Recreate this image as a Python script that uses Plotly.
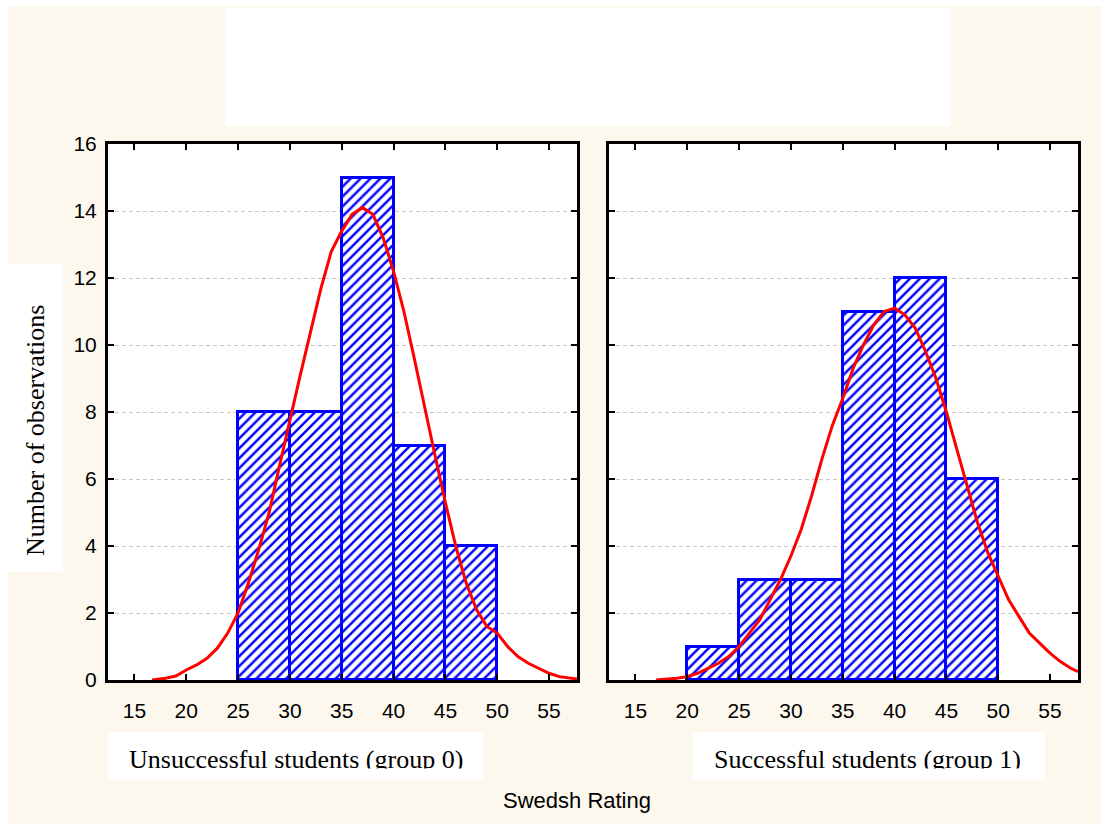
import plotly.graph_objects as go

# ---------------- data ----------------
bin_width = 5
bins_group0 = [27.5, 32.5, 37.5, 42.5, 47.5]
counts_group0 = [8, 8, 15, 7, 4]
bins_group1 = [22.5, 27.5, 32.5, 37.5, 42.5, 47.5]
counts_group1 = [1, 3, 3, 11, 12, 6]

curve0_x = [16.7, 18, 19, 20, 21, 22, 23, 24, 25, 26, 27, 28, 29, 30, 31, 32, 33, 34, 35,
            36, 37, 38, 39, 40, 41, 42, 43, 44, 45, 46, 47, 48, 49, 50, 51, 52, 53, 54,
            55, 56, 57, 57.7]
curve0_y = [0.0, 0.05, 0.12, 0.3, 0.45, 0.65, 0.95, 1.4, 2.0, 2.9, 3.9, 5.0, 6.4, 7.8,
            9.1, 10.4, 11.7, 12.8, 13.4, 13.9, 14.1, 13.9, 13.2, 12.2, 11.0, 9.6, 8.1,
            6.7, 5.3, 4.0, 2.9, 2.1, 1.6, 1.4, 1.0, 0.7, 0.5, 0.35, 0.2, 0.1, 0.05, 0.03]

curve1_x = [17, 18, 19, 20, 21, 22, 23, 24, 25, 26, 27, 28, 29, 30, 31, 32, 33, 34, 35,
            36, 37, 38, 39, 40, 41, 42, 43, 44, 45, 46, 47, 48, 49, 50, 51, 52, 53, 54,
            55, 56, 57, 57.7]
curve1_y = [0.0, 0.02, 0.05, 0.1, 0.2, 0.35, 0.5, 0.7, 1.0, 1.4, 1.8, 2.4, 3.0, 3.7,
            4.5, 5.5, 6.6, 7.6, 8.4, 9.3, 10.0, 10.6, 11.0, 11.1, 10.9, 10.5, 9.8, 9.0,
            8.0, 6.9, 5.8, 4.7, 3.8, 3.1, 2.4, 1.9, 1.4, 1.1, 0.8, 0.55, 0.35, 0.25]

x_ticks = [15, 20, 25, 30, 35, 40, 45, 50, 55]
y_ticks = [0, 2, 4, 6, 8, 10, 12, 14, 16]

panel_labels = ["Unsuccessful students (group 0)", "Successful students (group 1)"]
x_title = "Swedsh Rating"
y_title = "Number of observations"

# ---------------- style ----------------
W, H = 1101, 824
CREAM = "#FDF8EE"
BLUE = "#0000FF"
RED = "#FF0000"
SANS = "Liberation Sans, Arial, sans-serif"
SERIF = "Liberation Serif, Times New Roman, serif"


def px(x):
    return x / W


def py(y):
    return 1 - y / H


fig = go.Figure()

panels = [(bins_group0, counts_group0, curve0_x, curve0_y),
          (bins_group1, counts_group1, curve1_x, curve1_y)]
for i, (bx, counts, cx, cy) in enumerate(panels):
    xa = "x" if i == 0 else "x2"
    ya = "y" if i == 0 else "y2"
    fig.add_trace(go.Bar(
        x=bx, y=counts, width=[bin_width] * len(bx),
        xaxis=xa, yaxis=ya,
        marker=dict(color="white",
                    line=dict(color=BLUE, width=3),
                    pattern=dict(shape="/", fgcolor=BLUE, bgcolor="white",
                                 size=7, solidity=0.35, fillmode="replace")),
        showlegend=False,
    ))
    fig.add_trace(go.Scatter(
        x=cx, y=cy, mode="lines", xaxis=xa, yaxis=ya,
        line=dict(color=RED, width=3),
        showlegend=False,
    ))

xrange = [12.45, 57.7]
yrange = [0, 16]
ydom = [py(680), py(144)]

axis_common = dict(
    showline=True, linecolor="black", linewidth=3, mirror="ticks",
    ticks="inside", ticklen=6, tickwidth=2, tickcolor="black",
    tickfont=dict(family=SANS, size=21, color="black"),
    zeroline=False, automargin=False,
)
grid_common = dict(showgrid=True, gridcolor="#C8C8C8", gridwidth=1, griddash="4px,3px")

fig.update_layout(
    width=W, height=H,
    margin=dict(l=0, r=0, t=0, b=0, autoexpand=False),
    paper_bgcolor=CREAM, plot_bgcolor="white",
    bargap=0,
    xaxis=dict(domain=[px(108), px(577)], range=xrange, tickvals=x_ticks,
               showgrid=False, anchor="y", ticklabelstandoff=10, **axis_common),
    xaxis2=dict(domain=[px(609), px(1078)], range=xrange, tickvals=x_ticks,
                showgrid=False, anchor="y2", ticklabelstandoff=10, **axis_common),
    yaxis=dict(domain=ydom, range=yrange, tickvals=y_ticks, anchor="x",
               ticklabelstandoff=4, **grid_common, **axis_common),
    yaxis2=dict(domain=ydom, range=yrange, tickvals=y_ticks, anchor="x2",
                showticklabels=False, **grid_common, **axis_common),
)

shapes = [
    # white outer strips
    dict(x0=0, x1=1, y0=py(6), y1=1),
    dict(x0=0, x1=px(8), y0=0, y1=1),
    # empty title box
    dict(x0=px(225), x1=px(951), y0=py(126), y1=py(8)),
    # y label box
    dict(x0=px(8), x1=px(63), y0=py(572), y1=py(264)),
    # panel label boxes
    dict(x0=px(108), x1=px(483), y0=py(780), y1=py(732)),
    dict(x0=px(693), x1=px(1045), y0=py(780), y1=py(732)),
]
for s in shapes:
    fig.add_shape(type="rect", xref="paper", yref="paper", layer="below",
                  fillcolor="white", line=dict(width=0), **s)

ann_common = dict(xref="paper", yref="paper", showarrow=False,
                  xanchor="center", yanchor="middle")
fig.add_annotation(x=px(296), y=py(759), text=panel_labels[0],
                   font=dict(family=SERIF, size=26, color="black"), **ann_common)
fig.add_annotation(x=px(867), y=py(759), text=panel_labels[1],
                   font=dict(family=SERIF, size=26, color="black"), **ann_common)
# the original label boxes clip the descenders of their text
for cx0, wbox in [(296, 370), (869, 348)]:
    fig.add_annotation(x=px(cx0), y=py(768), text=" ", width=wbox, height=11,
                       bgcolor="white", borderpad=0, xref="paper", yref="paper",
                       showarrow=False, xanchor="center", yanchor="top",
                       font=dict(size=6))
fig.add_annotation(x=px(577), y=py(800), text=x_title,
                   font=dict(family=SANS, size=22, color="black"), **ann_common)
fig.add_annotation(x=px(35), y=py(431), text=y_title, textangle=-90,
                   font=dict(family=SERIF, size=26, color="black"), **ann_common)

fig.write_html("out.html")
